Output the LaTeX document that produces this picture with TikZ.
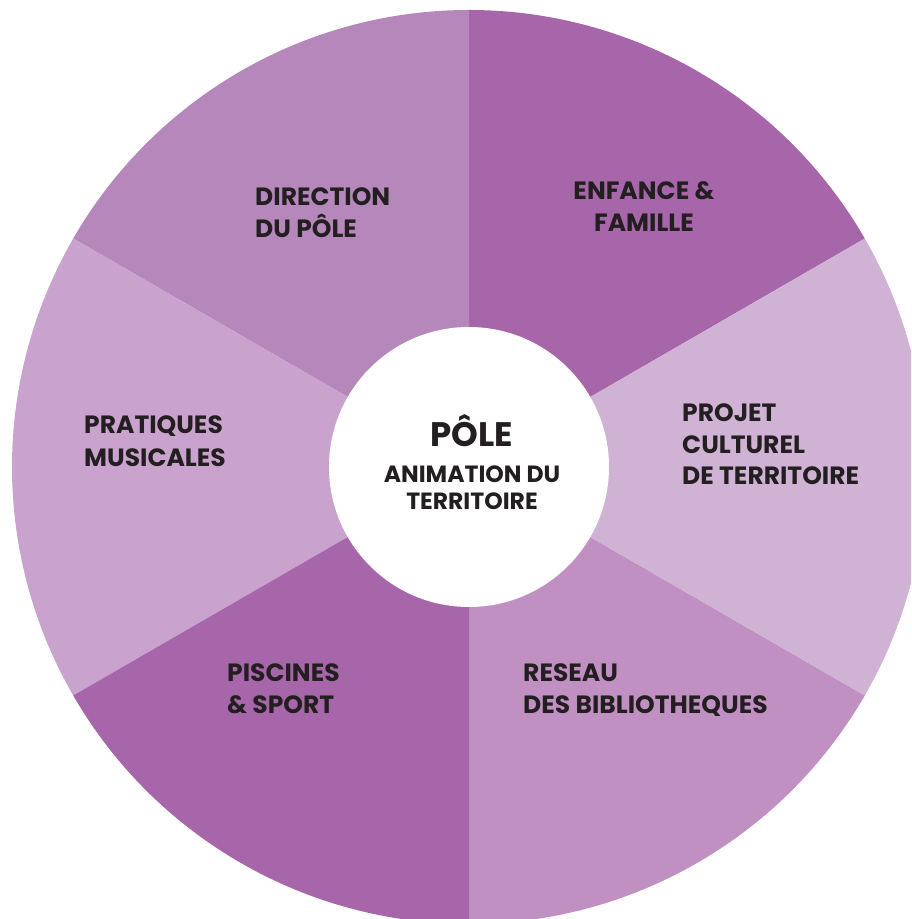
\documentclass[tikz,border=0pt]{standalone}
\usepackage{fontspec}
\setmainfont{Poppins}
\definecolor{cEnf}{HTML}{A766A9}
\definecolor{cDir}{HTML}{B687BA}
\definecolor{cPra}{HTML}{C9A3CD}
\definecolor{cPis}{HTML}{A866AA}
\definecolor{cRes}{HTML}{C190C2}
\definecolor{cPro}{HTML}{D0B2D5}
\definecolor{ink}{HTML}{231F20}
\tikzset{
  lab/.style={inner sep=0pt, text=ink, font=\fontsize{25}{32}\selectfont\bfseries, align=left, anchor=base west},
  labc/.style={lab, align=center, anchor=base},
}
\begin{document}
\begin{tikzpicture}[x=1pt,y=1pt]
\useasboundingbox (0,0) rectangle (911,919);
\clip (0,0) rectangle (911,919);
\coordinate (c) at (469,452);
\def\R{457}
\fill[cEnf] (c) -- ++(30:\R) arc[start angle=30, end angle=90, radius=\R] -- cycle;
\fill[cDir] (c) -- ++(90:\R) arc[start angle=90, end angle=150, radius=\R] -- cycle;
\fill[cPra] (c) -- ++(150:\R) arc[start angle=150, end angle=210, radius=\R] -- cycle;
\fill[cPis] (c) -- ++(210:\R) arc[start angle=210, end angle=270, radius=\R] -- cycle;
\fill[cRes] (c) -- ++(270:\R) arc[start angle=270, end angle=330, radius=\R] -- cycle;
\fill[cPro] (c) -- ++(-30:\R) arc[start angle=-30, end angle=30, radius=\R] -- cycle;
\node[circle, fill=white, minimum size=280pt, inner sep=0pt] (hub) at (c) {};
\node[labc, font=\fontsize{34}{36}\selectfont\bfseries] (pole) at (472,472) {PÔLE};
\node[labc, font=\fontsize{23.5}{27}\selectfont\bfseries] (anim) at (472,409) {ANIMATION DU\\TERRITOIRE};
\node[lab] (dir) at (255,681) {DIRECTION\\DU PÔLE};
\node[labc] (enf) at (644,687) {ENFANCE \&\\FAMILLE};
\node[lab, font=\fontsize{25}{31.5}\selectfont\bfseries] (pro) at (682,434) {PROJET\\CULTUREL\\DE TERRITOIRE};
\node[lab, font=\fontsize{25}{33}\selectfont\bfseries] (pra) at (84,452) {PRATIQUES\\MUSICALES};
\node[lab] (pis) at (227,205) {PISCINES\\\& SPORT};
\node[lab] (res) at (523,205) {RESEAU\\DES BIBLIOTHEQUES};
\end{tikzpicture}
\end{document}
